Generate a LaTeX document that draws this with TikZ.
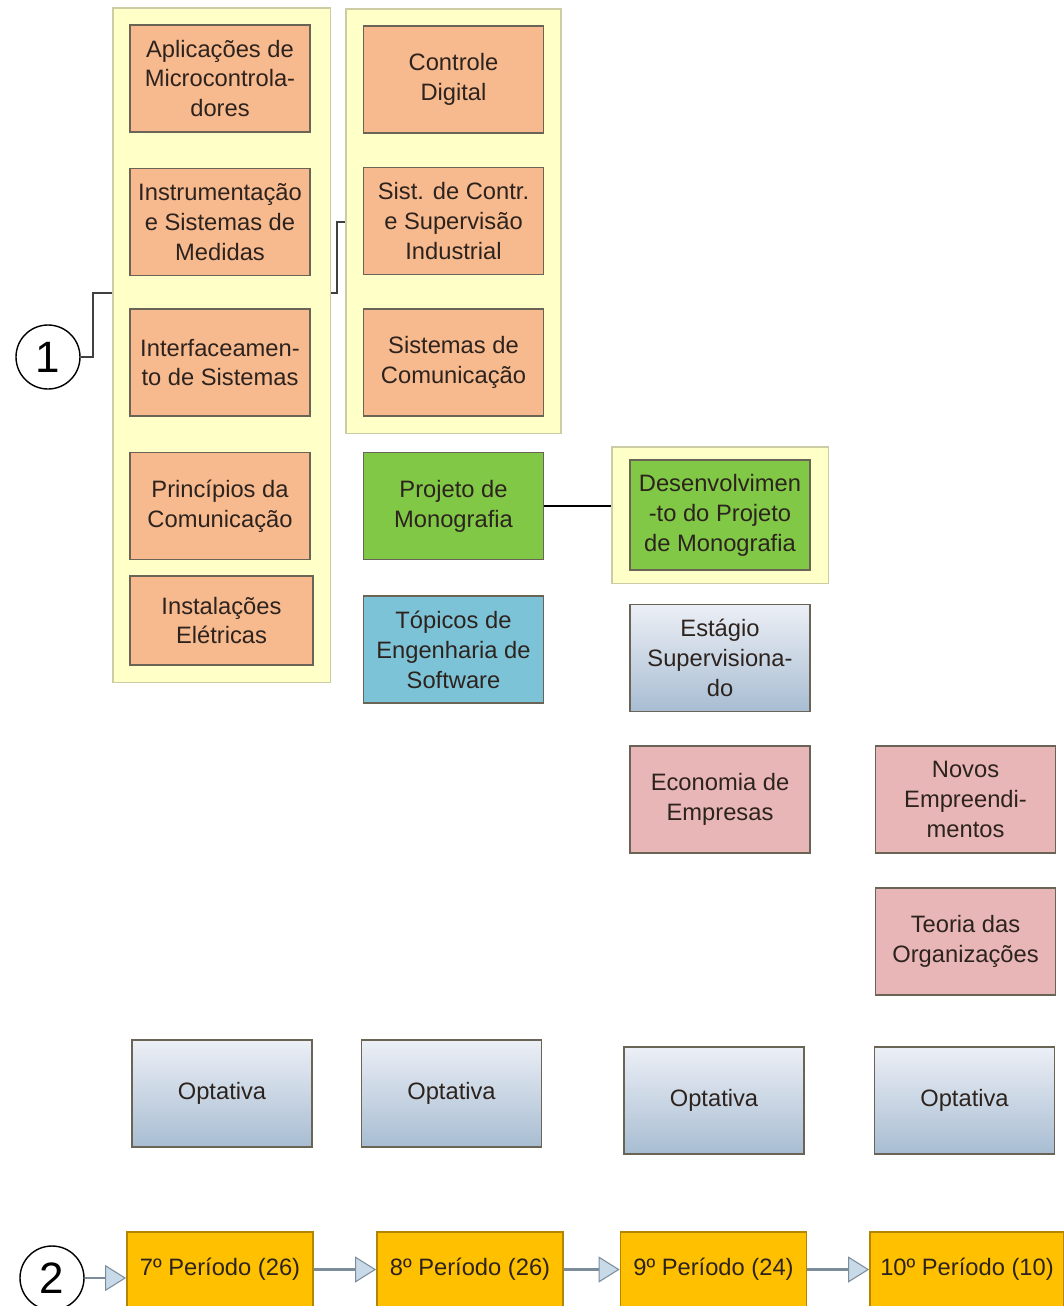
\documentclass[tikz,border=0pt]{standalone}
\usepackage{fontspec}
\setmainfont{Liberation Sans}
\usetikzlibrary{calc,positioning,fit,backgrounds,arrows.meta}
\definecolor{grpfill}{RGB}{255,255,200}
\definecolor{grpdraw}{RGB}{205,205,165}
\definecolor{laranja}{RGB}{247,185,142}
\definecolor{verde}{RGB}{128,200,70}
\definecolor{azul}{RGB}{125,195,215}
\definecolor{rosa}{RGB}{232,182,182}
\definecolor{cinzatopo}{RGB}{236,239,246}
\definecolor{cinzabase}{RGB}{168,189,210}
\definecolor{ouro}{RGB}{255,192,0}
\definecolor{borda}{RGB}{105,100,85}
\definecolor{texto}{RGB}{45,35,30}
\definecolor{setacor}{RGB}{125,140,155}
\definecolor{setafill}{RGB}{200,218,232}

\begin{document}
\begin{tikzpicture}[
    font=\fontsize{13.5}{17}\selectfont,
    materia/.style={draw=borda, line width=1pt, minimum width=3.6cm, minimum height=2.14cm,
      align=center, inner sep=1pt, text=texto},
    obrig/.style={materia, fill=laranja},
    proj/.style={materia, fill=verde},
    eletiva/.style={materia, top color=cinzatopo, bottom color=cinzabase},
    gestao/.style={materia, fill=rosa},
    periodo/.style={materia, fill=ouro, minimum height=1.5cm, minimum width=3.72cm, draw=ouro!70!black},
    grupo/.style={draw=grpdraw, fill=grpfill, line width=1pt, inner sep=0.33cm},
    num/.style={circle, draw, line width=0.8pt, minimum size=1.28cm, inner sep=0pt,
      font=\fontsize{25}{27}\selectfont},
    seta/.style={draw=setacor, line width=1.6pt,
      -{Triangle[length=0.42cm, width=0.52cm, fill=setafill, line width=0.6pt]}}
  ]
    \useasboundingbox (0,0) rectangle (21.28,-26.12);

    % 7o periodo
    \node[obrig] (apl) at (4.4,-1.57) {Aplicações de\\Microcontrola-\\dores};
    \node[obrig] (instr) at (4.4,-4.44) {Instrumentação\\e Sistemas de\\Medidas};
    \node[obrig] (interf) at (4.4,-7.25) {Interfaceamen-\\to de Sistemas};
    \node[obrig] (princ) at (4.4,-10.12) {Princípios da\\Comunicação};
    \node[obrig, minimum width=3.66cm, minimum height=1.78cm] (inst) at (4.43,-12.41) {Instalações\\Elétricas};

    % 8o periodo
    \node[obrig] (ctrl) at (9.07,-1.59) {Controle\\Digital};
    \node[obrig] (sist) at (9.07,-4.42) {Sist. de Contr.\\e Supervisão\\Industrial};
    \node[obrig] (scom) at (9.07,-7.25) {Sistemas de\\Comunicação};
    \node[proj] (mono) at (9.07,-10.12) {Projeto de\\Monografia};
    \node[materia, fill=azul] (soft) at (9.07,-12.99) {Tópicos de\\Engenharia de\\Software};

    % 9o periodo
    \node[proj, minimum height=2.2cm] (desenv) at (14.4,-10.3) {Desenvolvimen\\-to do Projeto\\de Monografia};
    \node[eletiva] (estag) at (14.4,-13.16) {Estágio\\Supervisiona-\\do};
    \node[gestao] (econ) at (14.4,-15.99) {Economia de\\Empresas};

    % 10o periodo
    \node[gestao] (novos) at (19.31,-15.99) {Novos\\Empreendi-\\mentos};
    \node[gestao] (teoria) at (19.31,-18.83) {Teoria das\\Organizações};

    % optativas
    \node[eletiva] (opt7) at (4.44,-21.87) {Optativa};
    \node[eletiva] (opt8) at (9.03,-21.87) {Optativa};
    \node[eletiva] (opt9) at (14.28,-22.01) {Optativa};
    \node[eletiva] (opt10) at (19.29,-22.01) {Optativa};

    % grupos
    \begin{scope}[on background layer]
      \node[grupo, fit=(apl)(inst)] (grp1) {};
      \node[grupo, fit=(ctrl)(scom)] (grp2) {};
      \node[grupo, inner xsep=0.35cm, inner ysep=0.25cm, fit=(desenv)] (grp3) {};
    \end{scope}

    \node[num] (c1) at (0.96,-7.14) {1};
    \coordinate (j1) at (1.86,-5.86);
    \coordinate (j2) at (6.74,-4.44);
    \draw[line width=0.8pt, black!75] (c1.east) -| (j1) -- (grp1.west |- j1);
    \draw[line width=0.8pt, black!75] (grp1.east |- j1) -| (j2) -- (grp2.west |- j2);
    \draw[line width=1pt] (mono.east) -- (grp3.west |- mono.east);

    % periodos
    \node[periodo] (p7) at (4.4,-25.39) {7º Período (26)};
    \node[periodo] (p8) at (9.4,-25.39) {8º Período (26)};
    \node[periodo] (p9) at (14.27,-25.39) {9º Período (24)};
    \node[periodo, minimum width=3.88cm] (p10) at (19.34,-25.39) {10º Período (10)};
    \node[num] (c2) at (1.04,-25.56) {2};

    \draw[seta] (c2.east) -- (p7.west |- c2.east);
    \draw[seta] (p7.east) -- (p8.west);
    \draw[seta] (p8.east) -- (p9.west);
    \draw[seta] (p9.east) -- (p10.west);
  \end{tikzpicture}
\end{document}
